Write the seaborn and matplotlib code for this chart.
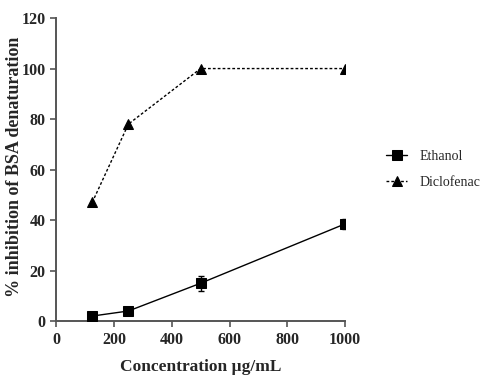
import matplotlib
matplotlib.use("Agg")
import matplotlib.pyplot as plt
import pandas as pd
import seaborn as sns

# data
conc = [125, 250, 500, 1000]
ethanol = [2, 4, 15, 38.5]
ethanol_err = [1, 1, 3, 2]
diclofenac = [47, 78, 100, 100]

x_ticks = [0, 200, 400, 600, 800, 1000]
y_ticks = [0, 20, 40, 60, 80, 100, 120]

sns.set_style("ticks")
plt.rcParams['font.family'] = ['Liberation Serif', 'DejaVu Serif']

df = pd.DataFrame({
    "conc": conc * 2,
    "value": ethanol + diclofenac,
    "group": ["Ethanol"] * len(conc) + ["Diclofenac"] * len(conc),
})

fig = plt.figure(figsize=(4.84, 3.76), dpi=100)
ax = fig.add_axes([0.116, 0.146, 0.597, 0.806])

#error bars for ethanol
ax.errorbar(conc, ethanol, yerr=ethanol_err, fmt="none", ecolor="black",
            elinewidth=1, capsize=2, zorder=2)

sns.lineplot(data=df, x="conc", y="value", hue="group", style="group",
             palette={"Ethanol": "black", "Diclofenac": "black"},
             markers={"Ethanol": "s", "Diclofenac": "^"},
             dashes={"Ethanol": "", "Diclofenac": (2, 1.5)},
             markersize=7, linewidth=1, markeredgecolor="black",
             ax=ax, zorder=3)

ax.set_xlim(0, 1000)
ax.set_ylim(0, 120)
ax.set_xticks(x_ticks)
ax.set_yticks(y_ticks)
for lbl in ax.get_xticklabels() + ax.get_yticklabels():
    lbl.set_fontweight("bold")
    lbl.set_fontsize(11.5)
ax.tick_params(color="#555555", width=1.2, length=4)

ax.set_xlabel("Concentration µg/mL", fontsize=12.5, fontweight="bold", labelpad=8)
ax.set_ylabel("% inhibition of BSA denaturation", fontsize=13, fontweight="bold")
ax.yaxis.set_label_coords(-0.115, 0.51)

for side in ["top", "right"]:
    ax.spines[side].set_visible(False)
for side in ["left", "bottom"]:
    ax.spines[side].set_color("#555555")
    ax.spines[side].set_linewidth(1.4)

ax.legend(title=None, frameon=False, loc="center left", bbox_to_anchor=(1.1, 0.5),
          fontsize=10, handlelength=1.5, handletextpad=0.9, labelspacing=0.9)

fig.savefig("out.png", dpi=100)
